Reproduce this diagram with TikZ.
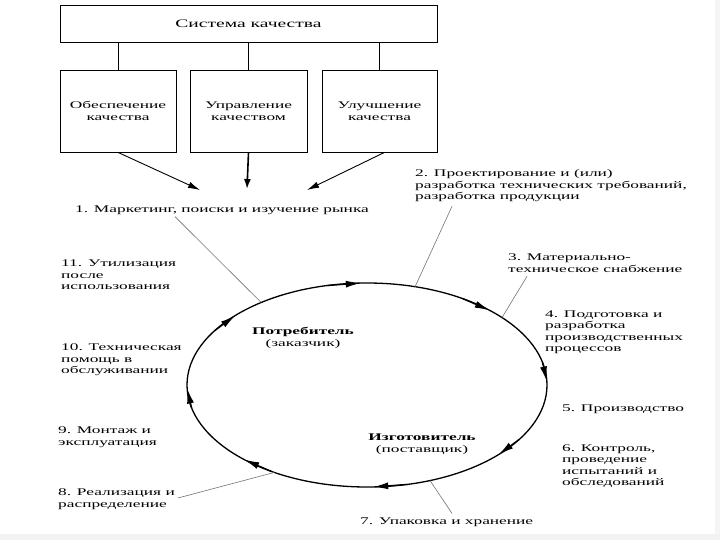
\documentclass[tikz,border=0pt]{standalone}
\usepackage{fontspec}
\setmainfont[FakeStretch=1.7]{Liberation Serif}
\usetikzlibrary{arrows.meta,calc}

\begin{document}
\begin{tikzpicture}[x=1pt, y=-1pt,
  declare function={ex(\t)=367+180*cos(\t); ey(\t)=385-102*sin(\t);},
  box/.style={draw, line width=0.8pt, align=center, font=\fontsize{10.2}{12}\selectfont},
  stage/.style={align=left, inner sep=0pt, anchor=west, font=\fontsize{10.2}{11.5}\selectfont},
  party/.style={align=center, inner sep=0pt, font=\fontsize{10.2}{12}\selectfont},
  arr/.style={-{Latex[length=12pt,width=6.5pt]}, line width=0.9pt},
  lead/.style={black!55, line width=0.6pt},
  cyc/.style={line width=1.3pt},
  tip/.style={-{Latex[length=15pt,width=7pt]}, line width=1.3pt},
]
  \useasboundingbox (0,0) rectangle (720,540);
  \fill[black!5] (0,534) rectangle (720,540);
  \fill[black!4] (715,0) rectangle (720,534);

  \node[box, minimum width=377, minimum height=37, font=\fontsize{11.5}{13}\selectfont] (sys) at (248.5,23.5) {Система качества};
  \node[box, minimum width=116, minimum height=82] (qa) at (118,111) {Обеспечение\\качества};
  \node[box, minimum width=117, minimum height=82] (qm) at (248.5,111) {Управление\\качеством};
  \node[box, minimum width=115, minimum height=82] (qi) at (379.5,111) {Улучшение\\качества};

  \draw[line width=0.8pt] (qa.north) -- (qa.north |- sys.south);
  \draw[line width=0.8pt] (qm.north) -- (qm.north |- sys.south);
  \draw[line width=0.8pt] (qi.north) -- (qi.north |- sys.south);

  \node[stage] (s1) at (75,210) {1. Маркетинг, поиски и изучение рынка};
  \node[stage] (s2) at (415,186) {2. Проектирование и (или)\\разработка технических требований,\\разработка продукции};
  \node[stage] (s3) at (508,263) {3. Материально-\\техническое снабжение};
  \node[stage] (s4) at (545,332) {4. Подготовка и\\разработка\\производственных\\процессов};
  \node[stage] (s5) at (562,409) {5. Производство};
  \node[stage] (s6) at (562,466) {6. Контроль,\\проведение\\испытаний и\\обследований};
  \node[stage] (s7) at (360,522) {7. Упаковка и хранение};
  \node[stage] (s8) at (58,499) {8. Реализация и\\распределение};
  \node[stage] (s9) at (58,437) {9. Монтаж и\\эксплуатация};
  \node[stage] (s10) at (61,360) {10. Техническая\\помощь в\\обслуживании};
  \node[stage] (s11) at (61,275) {11. Утилизация\\после\\использования};

  \node[party] (cons) at (303,338) {\textbf{Потребитель}\\(заказчик)};
  \node[party] (mfr) at (422,444) {\textbf{Изготовитель}\\(поставщик)};

  \coordinate (a1) at (200,190);
  \coordinate (a2) at (247,189);
  \coordinate (a3) at (307,190);
  \draw[arr] (qa.south) -- (a1);
  \draw[-{Latex[length=10pt,width=7pt]}, line width=1.6pt] (qm.south) -- (a2);
  \draw[arr] ([xshift=5pt]qi.south) -- (a3);

  \draw[cyc] (367,385) ellipse [x radius=180, y radius=102];
  \foreach \a in {95,50,...,-220}
    \draw[tip] ({ex(\a+8)},{ey(\a+8)}) -- ({ex(\a-3)},{ey(\a-3)});

  \coordinate (e1) at ({ex(126)},{ey(126)});
  \coordinate (e2) at ({ex(74.5)},{ey(74.5)});
  \coordinate (e3) at ({ex(41.4)},{ey(41.4)});
  \coordinate (e7) at ({ex(-69.5)},{ey(-69.5)});
  \coordinate (e8) at ({ex(-121)},{ey(-121)});
  \draw[lead] ($(s1.south west)+(100,2)$) -- (e1);
  \draw[lead] ($(s2.south west)+(37,4)$) -- (e2);
  \draw[lead] ($(s3.south west)+(19,4)$) -- (e3);
  \draw[lead] ($(s7.north west)+(92,-4)$) -- (e7);
  \draw[lead] ($(s8.east)+(3,-1)$) -- (e8);
\end{tikzpicture}
\end{document}
